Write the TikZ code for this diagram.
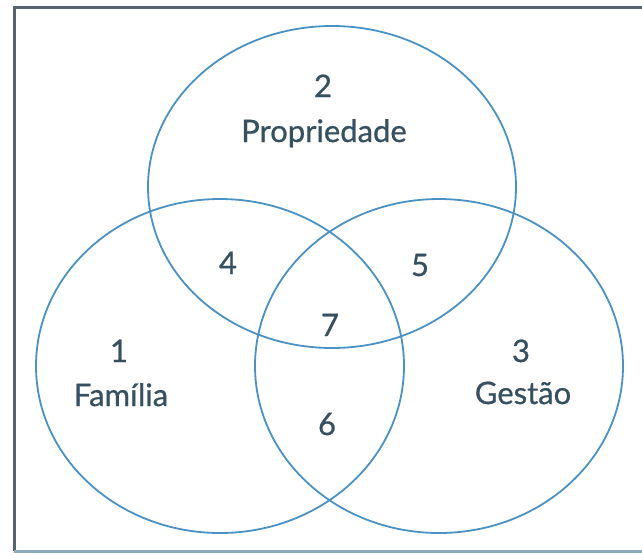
\documentclass[tikz,border=0pt]{standalone}
\usepackage{fontspec}
\setmainfont{Lato}
\newfontfamily\lblfont[FakeBold=0.7]{Lato}
\usetikzlibrary{shapes.geometric}
\definecolor{circblue}{RGB}{75,145,195}
\definecolor{framedark}{RGB}{85,100,110}
\definecolor{framelight}{RGB}{140,170,185}
\definecolor{txt}{RGB}{55,80,95}
\begin{document}
\begin{tikzpicture}[x=1pt,y=-1pt,
  venn/.style={draw=circblue,line width=1.8pt,ellipse,inner sep=0pt,outer sep=0pt},
  lbl/.style={text=txt,font=\lblfont\fontsize{31}{36}\selectfont,inner sep=0pt,anchor=base}]
\useasboundingbox (0,0) rectangle (642,554);
\fill[white] (0,0) rectangle (642,554);
% frame
\draw[framedark,line width=3pt] (14,551) -- (14,7) -- (645,7);
\draw[framelight,line width=3pt] (14,551) -- (645,551);
% circles
\node[venn,minimum width=368pt,minimum height=322pt] (cprop) at (332,187) {};
\node[venn,minimum width=368pt,minimum height=334pt] (cfam) at (220,366) {};
\node[venn,minimum width=368pt,minimum height=334pt] (cges) at (439,366) {};
% labels
\node[lbl] (n2) at (323,97) {2};
\node[lbl] (prop) at (324,142) {Propriedade};
\node[lbl] (n4) at (228,274) {4};
\node[lbl] (n5) at (420,276) {5};
\node[lbl] (n7) at (330,336) {7};
\node[lbl] (n1) at (119,362) {1};
\node[lbl] (fam) at (121,406) {Família};
\node[lbl] (n3) at (521,362) {3};
\node[lbl] (ges) at (523,404) {Gestão};
\node[lbl] (n6) at (327,435) {6};
\end{tikzpicture}
\end{document}
